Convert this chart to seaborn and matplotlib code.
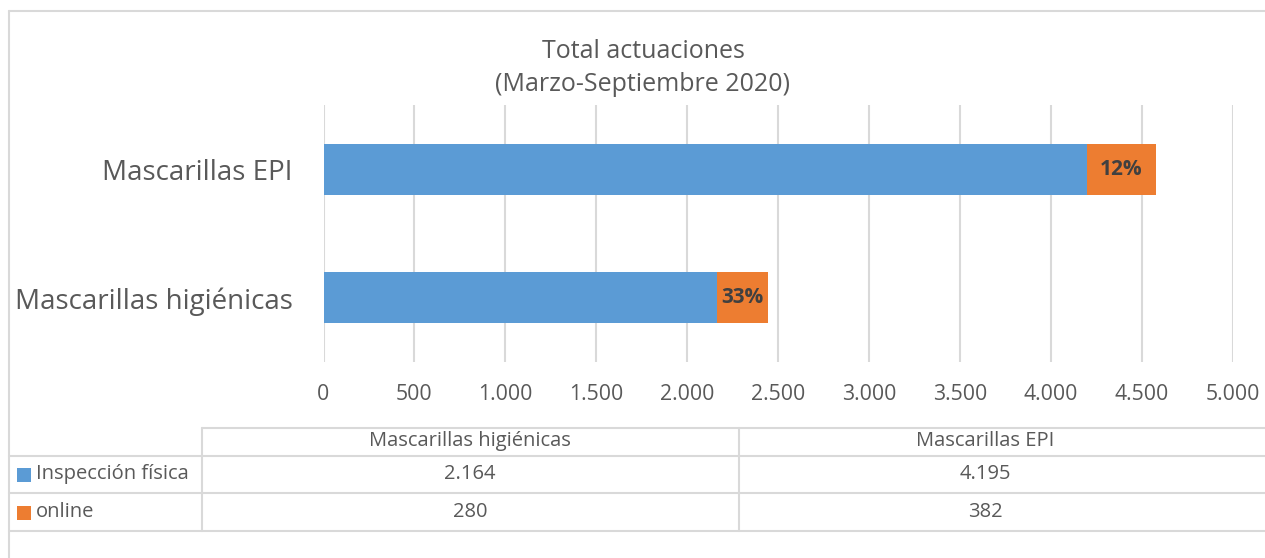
#!/usr/bin/env python3
"""Total actuaciones (Marzo-Septiembre 2020) - stacked bar with data table"""

import matplotlib
matplotlib.use("Agg")
import matplotlib.pyplot as plt
from matplotlib.lines import Line2D
from matplotlib.patches import Rectangle
import seaborn as sns
import pandas as pd

# data
categories = ["Mascarillas EPI", "Mascarillas higiénicas"]
inspeccion_fisica = [4195, 2164]
online = [382, 280]
pct_labels = ["12%", "33%"]
table_columns = ["Mascarillas higiénicas", "Mascarillas EPI"]
table_fisica = ["2.164", "4.195"]
table_online = ["280", "382"]
series_names = ["Inspección física", "online"]

BLUE = "#5B9BD5"
ORANGE = "#ED7D31"
GREY = "#595959"
GRID = "#D9D9D9"

W, H = 1265, 558

sns.set_theme(style="white")
plt.rcParams["font.family"] = ["Open Sans", "DejaVu Sans"]

df = pd.DataFrame({
    "cat": categories,
    "fisica": inspeccion_fisica,
    "online": online,
})
df["total"] = df["fisica"] + df["online"]

fig = plt.figure(figsize=(W / 100, H / 100), dpi=100)
fig.patch.set_facecolor("white")


def px(x, y):
    return x / W, 1 - y / H


ax = fig.add_axes([323.5 / W, 1 - 362 / H, (1233 - 323.5) / W, (362 - 105) / H])

# stacked bars: total in orange, physical inspection in front
sns.barplot(data=df, x="total", y="cat", order=categories, color=ORANGE,
            saturation=1, width=0.4, ax=ax, edgecolor="none", zorder=3)
sns.barplot(data=df, x="fisica", y="cat", order=categories, color=BLUE,
            saturation=1, width=0.4, ax=ax, edgecolor="none", zorder=4)

ax.set_xlim(0, 5000)
ax.set_ylim(1.5, -0.5)
ax.set_xticks(range(0, 5001, 500))
ax.set_xticklabels([f"{v:,}".replace(",", ".") for v in range(0, 5001, 500)])
ax.set_xlabel("")
ax.set_ylabel("")
for s in ax.spines.values():
    s.set_visible(False)
ax.grid(axis="x", color=GRID, lw=1.5, zorder=0)
ax.grid(axis="y", visible=False)
ax.tick_params(axis="x", length=0, pad=16, labelsize=15.3, labelcolor=GREY)
ax.tick_params(axis="y", length=0, pad=22, labelsize=20, labelcolor=GREY)

for i, lbl in enumerate(pct_labels):
    xc = inspeccion_fisica[i] + online[i] / 2
    ax.text(xc, i, lbl, ha="center", va="center", fontsize=15,
            fontweight="bold", color="#404040", zorder=5)

fig.text(*px(643, 51), "Total actuaciones", ha="center", va="center",
         fontsize=18, color=GREY)
fig.text(*px(643, 85), "(Marzo-Septiembre 2020)", ha="center", va="center",
         fontsize=18, color=GREY)

# outer chart border
for xs, ys in [([9, 9], [11, H]), ([9, W], [11, 11])]:
    fig.add_artist(Line2D([x / W for x in xs], [1 - y / H for y in ys],
                          color=GRID, lw=1.5))

# data table grid
hlines = [(202, 428), (9, 456), (9, 493), (9, 531)]
for x0, y in hlines:
    fig.add_artist(Line2D([x0 / W, 1], [1 - y / H, 1 - y / H], color=GRID, lw=1.5))
for x in [202, 739]:
    fig.add_artist(Line2D([x / W, x / W], [1 - 428 / H, 1 - 531 / H], color=GRID, lw=1.5))

col_centers = [470, 985]
row_y = [441, 474, 512]
for xc, name in zip(col_centers, table_columns):
    fig.text(*px(xc, row_y[0]), name, ha="center", va="center", fontsize=14.5, color=GREY)
for xc, a, b in zip(col_centers, table_fisica, table_online):
    fig.text(*px(xc, row_y[1]), a, ha="center", va="center", fontsize=14.5, color=GREY)
    fig.text(*px(xc, row_y[2]), b, ha="center", va="center", fontsize=14.5, color=GREY)

# legend keys in the table
for y, name, col in zip(row_y[1:], series_names, [BLUE, ORANGE]):
    fig.add_artist(Rectangle(px(17, y + 8), 14 / W, 14 / H, color=col, lw=0))
    fig.text(*px(36, y), name, ha="left", va="center", fontsize=14.5, color=GREY)

plt.savefig("out.png", dpi=100)
